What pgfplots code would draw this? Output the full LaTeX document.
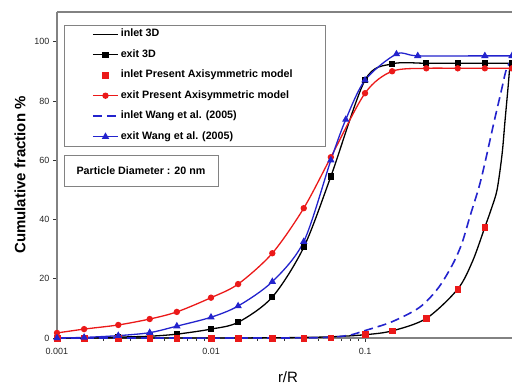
\documentclass[border=0pt]{standalone}
\usepackage{pgfplots}
\pgfplotsset{compat=1.18}
\usepackage{fontspec}
\setmainfont{Liberation Sans}
\definecolor{myred}{RGB}{235,25,25}
\definecolor{myblue}{RGB}{35,35,205}
\definecolor{axgray}{RGB}{130,130,130}
\begin{document}
\begin{tikzpicture}[x=1pt,y=1pt]
\useasboundingbox (0pt,0pt) rectangle (512pt,385pt);
\begin{axis}[
  at={(57pt,47pt)}, anchor=south west,
  scale only axis, width=455pt, height=326pt,
  xmode=log, xmin=0.001, xmax=0.9, ymin=0, ymax=110,
  axis x line*=box, axis y line*=left,
  axis line style={axgray, line width=1.2pt},
  xtick={0.001,0.01,0.1}, xticklabels={0.001,0.01,0.1},
  ytick={0,20,40,60,80,100},
  xtick pos=bottom, ytick pos=left,
  tick align=outside,
  major tick length=4pt, minor tick length=3pt,
  every tick/.style={black!80, line width=0.6pt},
  /pgf/number format/assume math mode=true,
  tick label style={font=\fontsize{9}{10}\selectfont, text=black!85},
  xticklabel shift=3pt,
  clip=false,
  legend cell align=left,
  legend image code/.code={\draw[mark repeat=2,mark phase=2,#1] plot coordinates {(0pt,0pt) (12.5pt,0pt) (25pt,0pt)};},
  legend style={at={(axis description cs:0.0769,0.9486)}, anchor=north west,
    draw=none, fill=none, inner sep=0pt, row sep=10pt, column sep=2pt,
    font=\bfseries\fontsize{10.7}{12}\selectfont,
    nodes={inner sep=0pt, text height=8pt, text depth=2.5pt}},
]
% inlet 3D
\addplot[black, line width=1.3pt, smooth] coordinates {
(0.001,0) (0.01,0) (0.03,0.1) (0.06,0.4) (0.1,1.1) (0.15,2.4) (0.25,6.6) (0.4,16.5) (0.5,26) (0.6,37.4) (0.66,43.5) (0.72,50) (0.776,62) (0.81,73) (0.85,85) (0.875,92.3) (0.9,92.6)};
\addlegendentry{inlet 3D}
% exit 3D
\addplot[black, line width=1.3pt, smooth, mark=square*, mark size=2.4pt] coordinates {
(0.001,0) (0.0015,0) (0.0025,0.3) (0.004,0.6) (0.006,1.3) (0.01,3) (0.015,5.3) (0.025,13.8) (0.04,30.6) (0.06,54.5) (0.1,87) (0.15,92.5) (0.25,92.7) (0.4,92.7) (0.6,92.7) (0.9,92.7)};
\addlegendentry{exit 3D}
% inlet present
\addplot[only marks, myred, mark=square*, mark size=2.8pt] coordinates {
(0.001,0) (0.0015,0) (0.0025,0) (0.004,0) (0.006,0) (0.01,0) (0.015,0) (0.025,0) (0.04,0) (0.06,0.1) (0.1,1.2) (0.15,2.4) (0.25,6.7) (0.4,16.5) (0.6,37.4)};
\addlegendentry{inlet Present Axisymmetric model}
% exit present
\addplot[myred, line width=1.3pt, smooth, mark=*, mark size=2.5pt] coordinates {
(0.001,1.7) (0.0015,3) (0.0025,4.4) (0.004,6.4) (0.006,8.8) (0.01,13.6) (0.015,18.2) (0.025,28.6) (0.04,43.8) (0.06,61) (0.1,82.6) (0.15,90) (0.25,91) (0.4,91) (0.6,91) (0.9,91)};
\addlegendentry{exit Present Axisymmetric model}
% inlet Wang
\addplot[myblue, line width=1.6pt, smooth, dash pattern=on 9pt off 5pt] coordinates {
(0.001,0) (0.03,0) (0.06,0.3) (0.08,1) (0.1,2.5) (0.15,5.5) (0.227,10.4) (0.3,17) (0.372,25) (0.426,32) (0.48,41) (0.55,51) (0.6,59) (0.689,73) (0.764,83) (0.82,90) (0.86,92.5) (0.9,92.7)};
\addlegendentry{inlet Wang et al. (2005)}
% exit Wang
\addplot[myblue, line width=1.3pt, smooth, mark=triangle*, mark size=3pt] coordinates {
(0.001,0) (0.0015,0.2) (0.0025,0.8) (0.004,1.8) (0.006,4) (0.01,7) (0.015,10.8) (0.025,19) (0.04,32.5) (0.06,60) (0.075,73.7) (0.1,87) (0.16,95.8) (0.22,95.2) (0.6,95.2) (0.9,95.2)};
\addlegendentry{exit Wang et al. (2005)}
\end{axis}
\draw[axgray, line width=0.8pt] (64pt,360pt) rectangle (325pt,239pt);
\draw[axgray, line width=0.8pt] (64pt,230pt) rectangle (218pt,199pt);
\node[font=\bfseries\fontsize{10.7}{12}\selectfont] at (141pt,214.5pt) {Particle Diameter : 20 nm};
\node[rotate=90, font=\bfseries\fontsize{15}{17}\selectfont] at (20pt,210pt) {Cumulative fraction \%};
\node[font=\fontsize{15}{17}\selectfont] at (288pt,8pt) {r/R};
\end{tikzpicture}
\end{document}
